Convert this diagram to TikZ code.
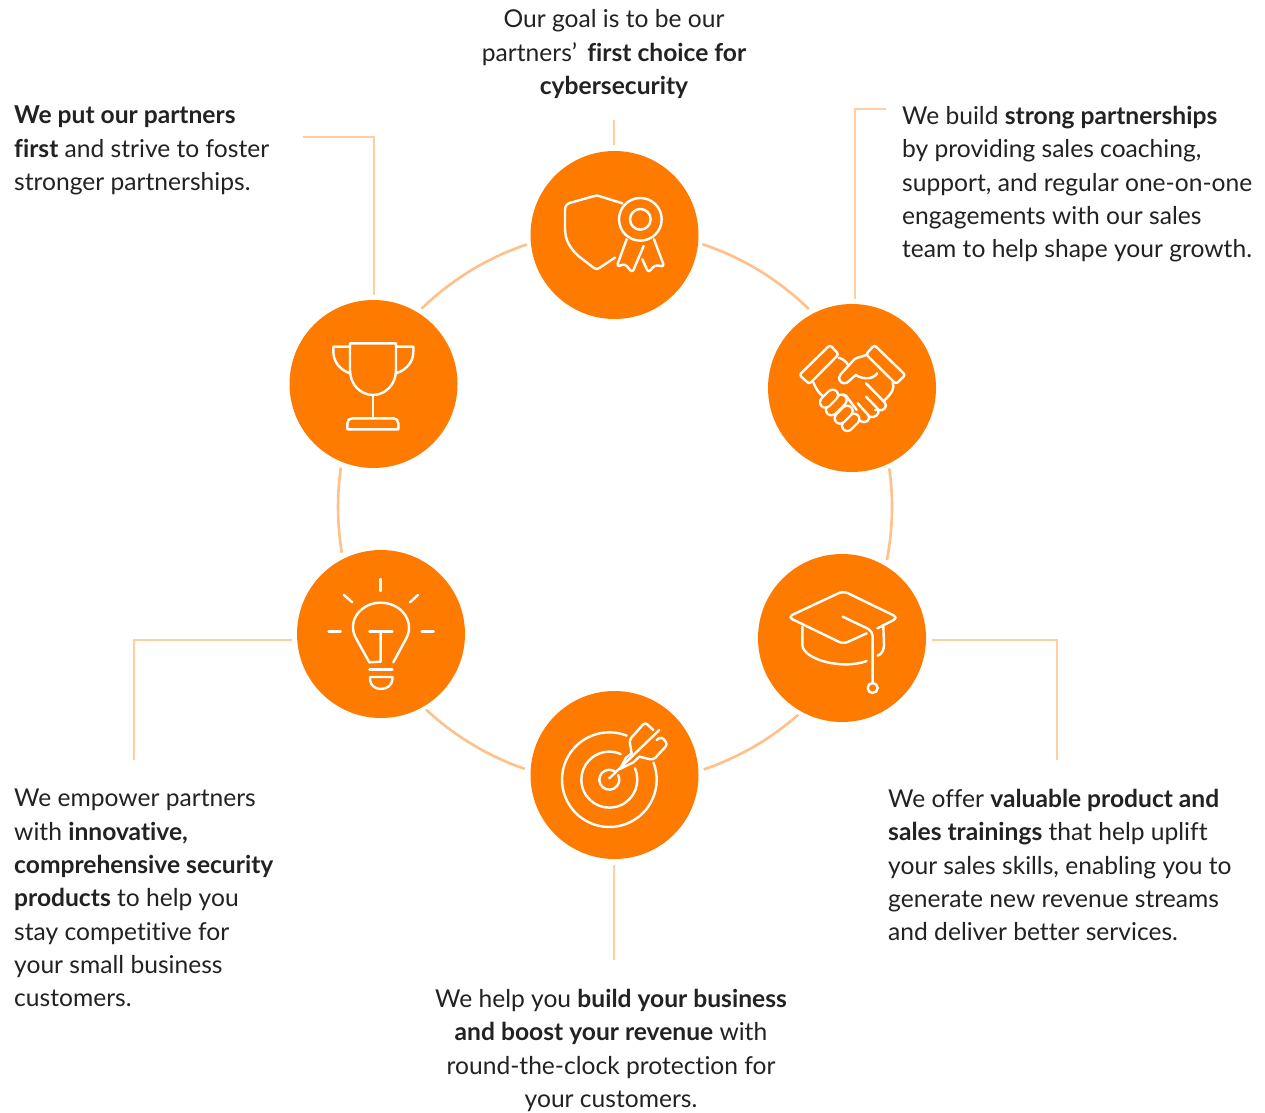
\documentclass[tikz,border=0pt]{standalone}
\usepackage{fontspec}
\setmainfont{Lato}[Ligatures=NoCommon]
\usetikzlibrary{calc}
\definecolor{org}{HTML}{FF7B00}
\definecolor{arcc}{HTML}{FFC08A}
\definecolor{linec}{HTML}{FFCFA3}
\definecolor{ink}{HTML}{222222}
\tikzset{
  x=1pt,y=1pt,
  disc/.style={circle,fill=org,minimum size=168pt,inner sep=0pt,draw=none},
  txt/.style={inner sep=0pt,text=ink,font=\fontsize{24.6}{33.3}\selectfont,align=left},
  txtc/.style={txt,align=center},
  ringarc/.style={draw=arcc,line width=2.6pt},
  link/.style={draw=linec,line width=1.5pt},
  ico/.style={draw=white,line width=2.4pt,line cap=round,line join=round},
  zoomed/.style={x=0.3333pt,y=-0.3333pt},
}
\begin{document}
\begin{tikzpicture}
\useasboundingbox (0,0) rectangle (1265,1112);
\fill[white] (0,0) rectangle (1265,1112);
\coordinate (ring) at (615,605);
\node[disc] (shield) at (614.5,877) {};
\node[disc] (hands) at (852,724) {};
\node[disc] (cap) at (842,474) {};
\node[disc] (target) at (614.5,337) {};
\node[disc] (bulb) at (381,478) {};
\node[disc] (trophy) at (373.5,728) {};
% ring arcs
\foreach \s/\e in {71.6/45.6,8/-11,-48.6/-71.3,251/227,189.5/171.8,134.3/108.6}{
  \draw[ringarc] ([shift={(\s:277pt)}]ring) arc[start angle=\s,end angle=\e,radius=277pt];
}
% texts
\node[txtc,anchor=north] (goal) at (614,1102.5) {Our goal is to be our\\partners’\, \textbf{first choice for}\\\textbf{cybersecurity}};
\node[txt,anchor=north west] (first) at (14,1006) {\textbf{We put our partners}\\\textbf{first} and strive to foster\\stronger partnerships.};
\node[txt,anchor=north west] (strong) at (902,1006) {We build \textbf{strong partnerships}\\by providing sales coaching,\\support, and regular one-on-one\\engagements with our sales\\team to help shape your growth.};
\node[txt,anchor=north west] (train) at (888,323) {We offer \textbf{valuable product and}\\\textbf{sales trainings} that help uplift\\your sales skills, enabling you to\\generate new revenue streams\\and deliver better services.};
\node[txt,anchor=north west] (empower) at (14,323) {We empower partners\\with \textbf{innovative,}\\\textbf{comprehensive security}\\\textbf{products} to help you\\stay competitive for\\your small business\\customers.};
\node[txtc,anchor=north] (boost) at (611,123) {We help you \textbf{build your business}\\\textbf{and boost your revenue} with\\round-the-clock protection for\\your customers.};
% connectors
\coordinate (a1) at (303,975);
\coordinate (a2) at (886,1003);
\coordinate (a3) at (1057,352);
\coordinate (a4) at (134,352);
\coordinate (a5) at (614,152);
\coordinate (a6) at (614,992);
\draw[link] (a6) -- ([yshift=6pt,xshift=-.5pt]shield.north);
\draw[link] (a1) -| ([yshift=5pt,xshift=.5pt]trophy.north);
\draw[link] (a2) -| ([yshift=5pt,xshift=3pt]hands.north);
\draw[link] (a3) |- ([xshift=6pt,yshift=-2pt]cap.east);
\draw[link] (a4) |- ([xshift=-5pt,yshift=-6pt]bulb.west);
\draw[link] (a5) -- ([yshift=-6pt,xshift=-.5pt]target.south);
% shield icon
\begin{scope}[shift={(520,972)},zoomed]
\draw[ico] (307,190) -- (240,169) .. controls (232,166) and (228,166) .. (220,169) -- (152,188) .. controls (140,192) and (135,198) .. (135,210) -- (135,265) .. controls (135,300) and (150,325) .. (175,348) -- (222,384) .. controls (228,388) and (232,388) .. (238,384) -- (285,353);
\draw[ico] (361,238) circle[radius=64];
\draw[ico] (361,238) circle[radius=31];
\draw[ico,rounded corners=3pt] (320,298) -- (290,380) -- (315,372) -- (337,398) -- (371,318);
\draw[ico,rounded corners=3pt] (402,298) -- (433,380) -- (405,375) -- (385,398) -- (367,358);
\end{scope}
% hands icon
\begin{scope}[shift={(760,817)},zoomed]
\draw[ico,rounded corners=2.5pt] (210,150) -- (236,178) -- (148,267) -- (118,240) -- cycle;
\draw[ico,rounded corners=2.5pt] (343,150) -- (318,178) -- (408,267) -- (436,240) -- cycle;
\draw[ico] (236,188) .. controls (250,192) and (258,200) .. (265,210);
\draw[ico] (160,262) .. controls (166,278) and (176,294) .. (190,305);
\draw[ico] (318,180) .. controls (305,186) and (292,186) .. (282,194) -- (242,238) .. controls (232,250) and (240,264) .. (252,265) .. controls (265,266) and (272,250) .. (288,240) .. controls (300,250) and (335,258) .. (352,235);
\draw[ico] (398,262) .. controls (405,280) and (395,295) .. (372,318);
\draw[ico] (318,265) -- (374,322) .. controls (385,335) and (370,350) .. (355,345) -- (345,345);
\draw[ico] (318,305) -- (354,342) .. controls (362,355) and (345,372) .. (328,365);
\draw[ico] (293,325) -- (325,360) .. controls (335,375) and (315,388) .. (300,378) -- (285,362);
\draw[ico] (248,298) -- (258,302) -- (290,345);
\foreach \ax/\ay/\bx/\by in {262/392/282/372,240/370/262/348,214/345/244/315,196/322/218/300}{
  \draw[white,line width=13pt,line cap=round] (\ax,\ay) -- (\bx,\by);
  \draw[org,line width=8.4pt,line cap=round] (\ax,\ay) -- (\bx,\by);
}
\end{scope}
% trophy icon
\begin{scope}[shift={(280,817)},zoomed]
\draw[ico] (210,145) -- (348,145) -- (348,225) .. controls (348,270) and (315,300) .. (279,300) .. controls (243,300) and (210,270) .. (210,225) -- cycle;
\draw[ico] (210,155) -- (160,155) -- (160,170) .. controls (160,200) and (180,225) .. (210,235);
\draw[ico] (348,155) -- (400,155) -- (400,170) .. controls (400,200) and (380,225) .. (348,235);
\draw[ico] (279,300) -- (279,370);
\draw[ico] (202,403) -- (202,385) .. controls (202,376) and (208,370) .. (217,370) -- (340,370) .. controls (349,370) and (355,376) .. (355,385) -- (355,403) -- cycle;
\end{scope}
% bulb icon
\begin{scope}[shift={(290,567)},zoomed]
\draw[ico] (272,102) -- (272,138);
\draw[ico] (162,150) -- (187,172);
\draw[ico] (384,150) -- (360,172);
\draw[ico] (116,259) -- (152,259);
\draw[ico] (395,259) -- (431,259);
\draw[ico] (238,352) -- (197,278) .. controls (170,225) and (215,173) .. (272,173) .. controls (330,173) and (375,225) .. (350,278) -- (310,352);
\draw[ico] (238,259) -- (307,259);
\draw[ico] (272,259) -- (272,350) -- (238,352);
\draw[ico] (238,373) -- (307,373);
\draw[ico] (240,396) -- (307,396) -- (307,405) .. controls (305,422) and (290,432) .. (273,432) .. controls (256,432) and (242,422) .. (240,405) -- cycle;
\end{scope}
% cap icon
\begin{scope}[shift={(750,567)},zoomed]
\draw[ico,rounded corners=5pt] (350,265) -- (280,297) -- (113,216) -- (280,138) -- (445,218) -- (382,250);
\draw[ico,rounded corners=5pt] (278,215) -- (368,258) -- (368,415);
\draw[ico] (368,429) circle[radius=15];
\draw[ico] (157,245) -- (157,300) .. controls (160,345) and (280,375) .. (350,348);
\draw[ico] (400,245) -- (402,300) .. controls (402,315) and (395,328) .. (383,332);
\end{scope}
% target icon
\begin{scope}[shift={(520,427)},zoomed]
\draw[ico] (400.6,233.1) arc[start angle=-21,end angle=291.5,radius=142];
\draw[ico] (344.7,249.8) arc[start angle=-24,end angle=294,radius=84];
\draw[ico] (294.7,270.4) arc[start angle=-27,end angle=300,radius=30];
\draw[ico] (268,280) -- (418,135);
\draw[ico] (300,252) -- (318,218) -- (335,205);
\draw[ico] (300,252) -- (340,232) -- (358,215);
\draw[ico,rounded corners=3pt] (335,205) -- (328,165) -- (375,112) -- (400,135);
\draw[ico,rounded corners=3pt] (358,215) -- (400,225) -- (443,178) -- (425,155) -- (410,165);
\end{scope}
\end{tikzpicture}
\end{document}
